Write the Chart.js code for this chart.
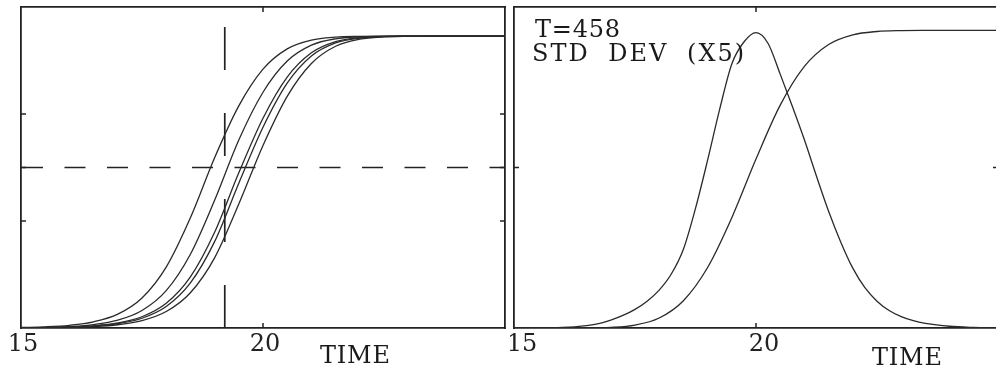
<!DOCTYPE html>
<html><head><meta charset="utf-8">
<script src="https://cdn.jsdelivr.net/npm/chart.js@4/dist/chart.umd.min.js"></script>
<style>
html,body{margin:0;padding:0;background:#fff;overflow:hidden;width:996px;height:369px;}
#wrapL{position:absolute;left:0;top:0;width:510px;height:369px;}
#wrapR{position:absolute;left:510px;top:0;width:490px;height:369px;}
.lbl{position:absolute;font-family:"DejaVu Serif",serif;font-size:24px;line-height:24px;color:#1a1a1a;white-space:pre;}
</style></head><body>
<div id="wrapL"><canvas id="cL" width="510" height="369"></canvas></div>
<div id="wrapR"><canvas id="cR" width="490" height="369"></canvas></div>
<div class="lbl" style="left:320px;top:343px;letter-spacing:0.8px">TIME</div>
<div class="lbl" style="left:872px;top:345px;letter-spacing:0.8px">TIME</div>
<div class="lbl" style="left:535px;top:17px;letter-spacing:0.8px">T=458</div>
<div class="lbl" style="left:532px;top:41px;letter-spacing:2px;word-spacing:9px">STD DEV (X5)</div>
<script>
// ---- data ----
const timeL = [15,15.5,16,16.5,17,17.5,18,18.5,19,19.5,20,20.5,21,21.5,22,22.5,23,23.5,24,24.5,25];
const curveA = [0.0018,0.0041,0.0093,0.0212,0.0474,0.1028,0.2086,0.3775,0.5832,0.7611,0.8869,0.9564,0.9864,0.9966,0.9993,0.9999,1,1,1,1,1];
const curveB = [0.0010,0.0023,0.0052,0.0119,0.0270,0.0601,0.1282,0.2529,0.4378,0.6443,0.8078,0.9147,0.9693,0.9911,0.9979,0.9996,1,1,1,1,1];
const curveC = [0.0006,0.0014,0.0033,0.0075,0.0171,0.0385,0.0845,0.1751,0.3281,0.5319,0.7190,0.8599,0.9429,0.9812,0.9951,0.9990,0.9998,1,1,1,1];
const curveD = [0.0005,0.0012,0.0028,0.0065,0.0148,0.0334,0.0736,0.1545,0.2959,0.4960,0.6879,0.8389,0.9319,0.9767,0.9936,0.9986,0.9998,1,1,1,1];
const curveE = [0.0004,0.0009,0.0021,0.0049,0.0112,0.0253,0.0564,0.1210,0.2405,0.4250,0.6255,0.7939,0.9066,0.9656,0.9898,0.9976,0.9995,0.9999,1,1,1];
const markerTime = 19.21;
const midLevel = 0.55;

const timeR = [15,15.5,16,16.5,17,17.5,18,18.5,19,19.5,20,20.5,21,21.5,22,22.5,23,23.5,24,24.5,25];
const meanR = [0,0,0.0001,0.0004,0.0023,0.0101,0.0343,0.0936,0.2074,0.3781,0.5789,0.7636,0.8966,0.9716,1.0047,1.0161,1.0192,1.0199,1.02,1.02,1.02];
const timeSD = [15,15.5,16,16.25,16.5,16.75,17,17.25,17.5,17.75,18,18.25,18.5,18.75,19,19.25,19.5,19.75,20,20.25,20.5,20.75,21,21.25,21.5,21.75,22,22.25,22.5,22.75,23,23.25,23.5,24,24.5,25];
const stdDevX5 = [0,0.0003,0.002,0.004,0.008,0.015,0.027,0.043,0.064,0.092,0.13,0.185,0.27,0.41,0.575,0.75,0.905,0.98,1.012,0.975,0.87,0.76,0.645,0.52,0.40,0.295,0.205,0.138,0.092,0.060,0.039,0.025,0.016,0.006,0.002,0];

const xMin = 15, xMax = 25, xStep = 5;
const yMin = 0, yMax = 1.1;
const xTickMarks = [20];
const yTickMarksL = [0.3667, 0.55, 0.7333];
const yTickMarksR = [0.55];

// ---- drawing ----
const INK = '#222';
const pts = (xs, ys) => xs.map((x, i) => ({x: x, y: ys[i]}));

const inTicks = {
  id: 'inTicks',
  afterDatasetsDraw(chart, args, opts) {
    const {ctx, chartArea: a, scales} = chart;
    ctx.save();
    ctx.strokeStyle = INK; ctx.lineWidth = 1.5;
    const ln = (x1, y1, x2, y2) => { ctx.beginPath(); ctx.moveTo(x1, y1); ctx.lineTo(x2, y2); ctx.stroke(); };
    (opts.x || []).forEach(v => { const p = scales.x.getPixelForValue(v); ln(p, a.bottom, p, a.bottom - 5); ln(p, a.top, p, a.top + 5); });
    (opts.y || []).forEach(v => { const p = scales.y.getPixelForValue(v); ln(a.left, p, a.left + 5, p); ln(a.right, p, a.right - 5, p); });
    ctx.restore();
  }
};

function curve(data) {
  return {data: data, borderColor: '#2a2a2a', borderWidth: 1.3, pointRadius: 0, fill: false, cubicInterpolationMode: 'monotone'};
}

function scalesFor(leftW, rightW, labelOffset) {
  const border = {display: true, color: INK, width: 1.8};
  return {
    x: {type: 'linear', position: 'bottom', min: xMin, max: xMax,
        ticks: {stepSize: xStep, autoSkip: false, maxRotation: 0, padding: 2, labelOffset: labelOffset,
                color: INK, font: {family: 'DejaVu Serif', size: 24},
                callback: v => (v === xMax ? '' : String(v))},
        grid: {display: false, drawTicks: false}, border: border,
        afterFit(s) { s.height = 41; s.paddingLeft = 0; s.paddingRight = 0; }},
    xTop: {type: 'linear', position: 'top', min: xMin, max: xMax,
        ticks: {display: false}, grid: {display: false, drawTicks: false}, border: border,
        afterFit(s) { s.height = 7; s.paddingLeft = 0; s.paddingRight = 0; }},
    y: {type: 'linear', position: 'left', min: yMin, max: yMax,
        ticks: {display: false}, grid: {display: false, drawTicks: false}, border: border,
        afterFit(s) { s.width = leftW; s.paddingTop = 0; s.paddingBottom = 0; }},
    yRight: {type: 'linear', position: 'right', min: yMin, max: yMax,
        ticks: {display: false}, grid: {display: false, drawTicks: false}, border: border,
        afterFit(s) { s.width = rightW; s.paddingTop = 0; s.paddingBottom = 0; }}
  };
}

const common = {
  responsive: false, animation: false, events: [],
  layout: {padding: 0},
  plugins: {legend: {display: false}, tooltip: {enabled: false}, title: {display: false}}
};

new Chart(document.getElementById('cL'), {
  type: 'line',
  data: {datasets: [
    curve(pts(timeL, curveA)), curve(pts(timeL, curveB)), curve(pts(timeL, curveC)),
    curve(pts(timeL, curveD)), curve(pts(timeL, curveE)),
    {data: [{x: xMin, y: midLevel}, {x: xMax, y: midLevel}], borderColor: INK, borderWidth: 1.7,
     borderDash: [21, 21.5], borderDashOffset: -1, pointRadius: 0},
    {data: [{x: markerTime, y: yMin}, {x: markerTime, y: yMax}], borderColor: INK, borderWidth: 1.7,
     borderDash: [43, 43], pointRadius: 0}
  ]},
  options: Object.assign({}, common, {
    scales: scalesFor(21, 5, 2),
    plugins: Object.assign({}, common.plugins, {inTicks: {x: xTickMarks, y: yTickMarksL}})
  }),
  plugins: [inTicks]
});

new Chart(document.getElementById('cR'), {
  type: 'line',
  data: {datasets: [
    curve(pts(timeSD, stdDevX5)),
    curve(pts(timeR, meanR))
  ]},
  options: Object.assign({}, common, {
    scales: scalesFor(4, 2, 8),
    plugins: Object.assign({}, common.plugins, {inTicks: {x: xTickMarks, y: yTickMarksR}})
  }),
  plugins: [inTicks]
});
</script>
</body></html>
